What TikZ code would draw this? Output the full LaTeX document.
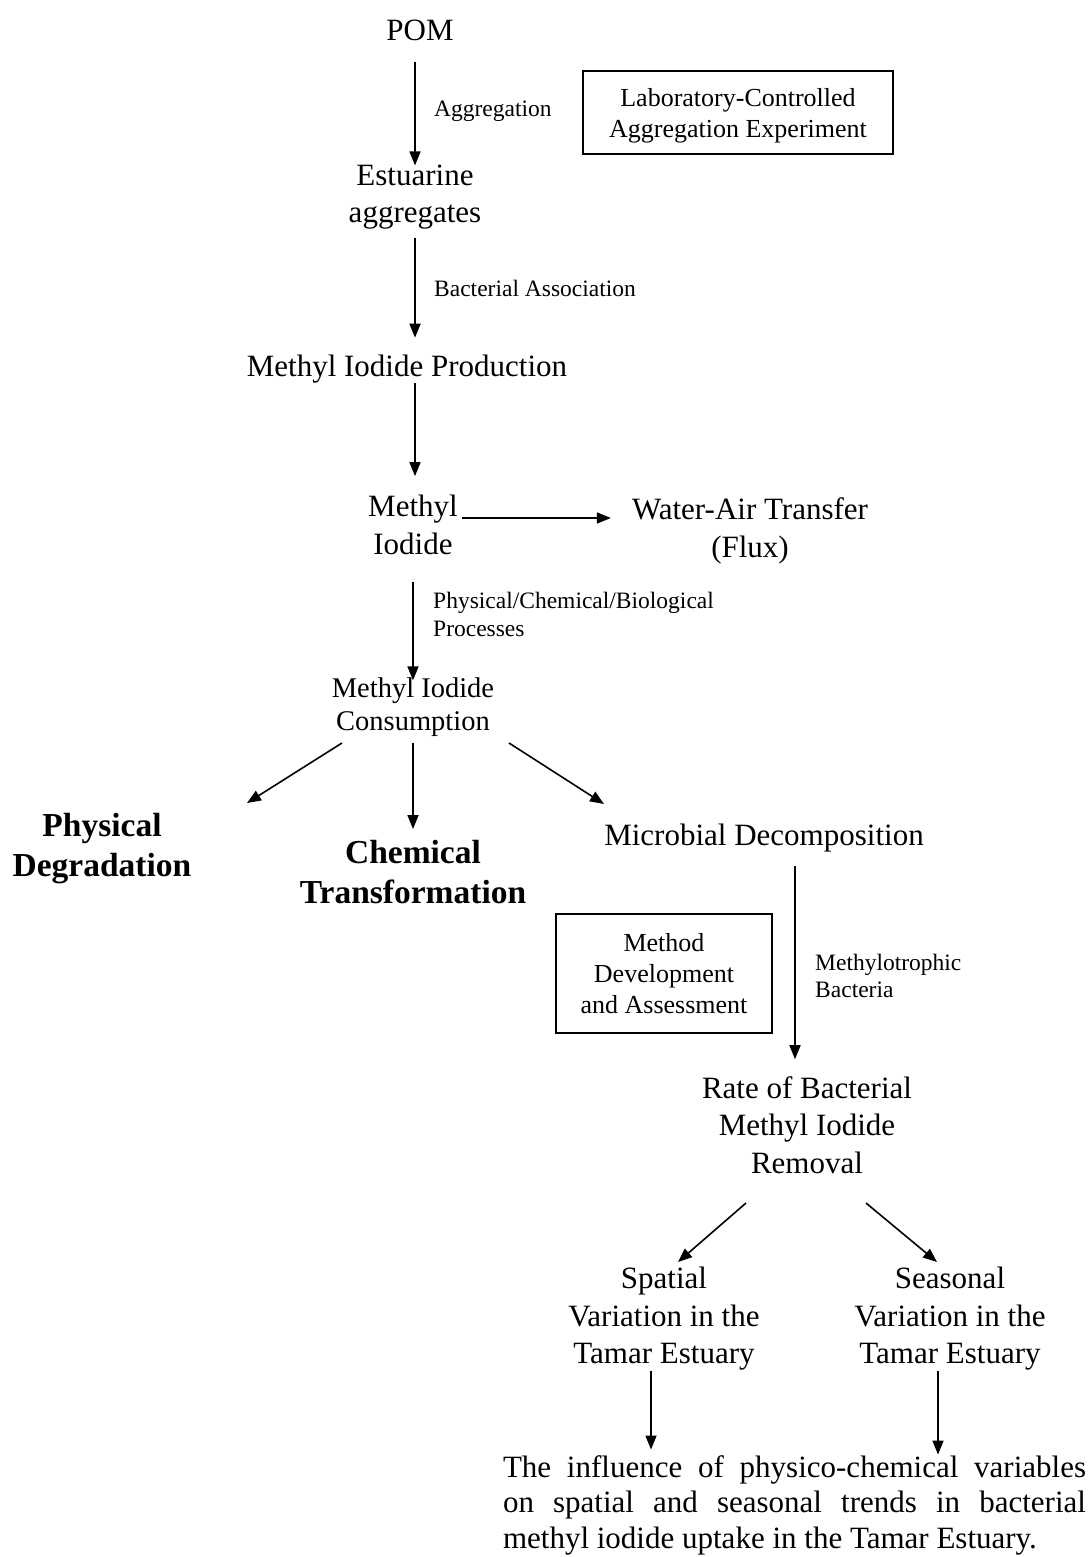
\documentclass[tikz,border=0pt]{standalone}
\usepackage{fontspec}
\setmainfont{Liberation Serif}
\usepackage{tikz}
\usetikzlibrary{positioning,arrows.meta,calc}

\begin{document}
\begin{tikzpicture}[
  x=1pt, y=-1pt,
  main/.style={font=\fontsize{31}{37.5}\selectfont, align=center, inner sep=0pt},
  cons/.style={font=\fontsize{28.5}{33}\selectfont, align=center, inner sep=0pt},
  boldtxt/.style={font=\fontsize{33.5}{40}\selectfont\bfseries, align=center, inner sep=0pt},
  lbl/.style={font=\fontsize{23.5}{27.5}\selectfont, anchor=west, align=left, inner sep=0pt},
  expbox/.style={draw, line width=1.6pt, font=\fontsize{26}{31}\selectfont, align=center, inner sep=0pt},
  para/.style={font=\fontsize{31}{35.5}\selectfont, text width=583pt, align=justify, inner sep=0pt},
  arr/.style={line width=1.6pt, -{Triangle[length=14pt,width=11pt]}}
]
% page in pixel units, y running downwards
\useasboundingbox (0,0) rectangle (1091,1557);

% --- Aggregation stage ---
\node[main] (pom) at (420,30) {POM};
\node[main] (estu) at (415,197) {Estuarine\\aggregates};
\node[lbl] (aggr) at (434,111) {Aggregation};
\node[expbox, minimum width=310pt, minimum height=83pt] (labexp) at (738,112.5)
  {\raisebox{-3pt}[\height][\depth]{\begin{tabular}{@{}c@{}}Laboratory-Controlled\\Aggregation Experiment\end{tabular}}};
\draw[arr, shorten <=21pt, shorten >=-1pt] (estu.north |- pom.south) -- (estu.north);

% --- Production ---
\node[main] (prod) at (407,369) {Methyl Iodide Production};
\node[lbl] (bact) at (434,288) {Bacterial Association};
\draw[arr, shorten <=8pt, shorten >=17pt] (estu.south) -- (estu.south |- prod.north);

% --- Methyl iodide and its fate ---
\node[main] (mei) at (413,525) {Methyl\\Iodide};
\node[main] (flux) at (750,531) {Water-Air Transfer\\(Flux)};
\draw[arr, shorten <=0pt, shorten >=19pt] (estu.south |- prod.south) -- (estu.south |- mei.north);
\draw[arr, shorten <=4pt, shorten >=21pt] ([yshift=7pt]mei.east) -- ([yshift=7pt]mei.east -| flux.west);

\node[cons] (cons) at (413,707) {Methyl Iodide\\Consumption};
\node[lbl] (procs) at (433,614.5) {Physical/Chemical/Biological\\Processes};
\draw[arr, shorten <=27pt, shorten >=-3pt] (mei.south) -- (mei.south |- cons.north);

% --- Consumption pathways ---
\node[boldtxt] (phys) at (102,849) {Physical\\Degradation};
\node[boldtxt] (chem) at (413,872) {Chemical\\Transformation};
\node[main] (micro) at (764,838) {Microbial Decomposition};
\draw[arr] ([shift={(-71,36)}]cons.center) -- ([shift={(145,-46)}]phys.center);
\draw[arr, shorten <=6pt, shorten >=11pt] (cons.south) -- (cons.south |- chem.north);
\draw[arr] ([shift={(96,36)}]cons.center) -- ([shift={(-160,-34)}]micro.center);

% --- Bacterial removal ---
\node[main] (rate) at (807,1125) {Rate of Bacterial\\Methyl Iodide\\Removal};
\node[lbl] (methylo) at (815,976) {Methylotrophic\\Bacteria};
\node[expbox, minimum width=216pt, minimum height=119pt] (method) at (664,973.5)
  {Method\\Development\\and Assessment};
\draw[arr, shorten <=14pt, shorten >=17pt] ([xshift=31pt]micro.south) -- ([xshift=31pt]micro.south |- rate.north);

% --- Estuary survey ---
\node[main] (spat) at (664,1319) {Spatial\\Variation in the\\Tamar Estuary};
\node[main] (seas) at (950,1319) {Seasonal\\Variation in the\\Tamar Estuary};
\draw[arr] ([shift={(-61,78)}]rate.center) -- ([shift={(14,-57)}]spat.center);
\draw[arr] ([shift={(59,78)}]rate.center) -- ([shift={(-13,-57)}]seas.center);

\node[para] (concl) at (794.5,1505) {\hyphenpenalty=10000 \exhyphenpenalty=10000
  The influence of physico-chemical variables\linebreak on spatial and seasonal trends in
  bacterial\linebreak methyl iodide uptake in the Tamar Estuary.};
\draw[arr, shorten <=0pt, shorten >=5.5pt] ([xshift=-13pt]spat.south) -- ([xshift=-13pt]spat.south |- concl.north);
\draw[arr, shorten <=0pt, shorten >=0.5pt] ([xshift=-12pt]seas.south) -- ([xshift=-12pt]seas.south |- concl.north);

\end{tikzpicture}
\end{document}
